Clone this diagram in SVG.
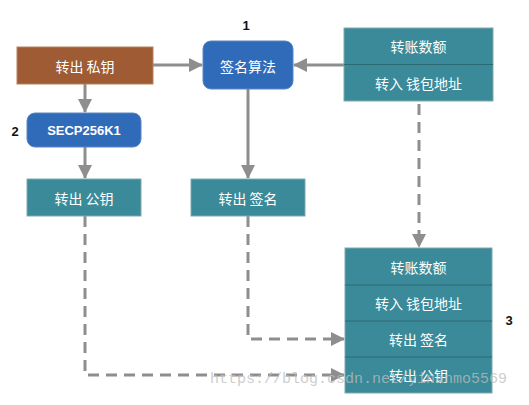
<svg xmlns="http://www.w3.org/2000/svg" width="529" height="405" viewBox="0 0 529 405">
<defs>
<marker id="ah" markerUnits="userSpaceOnUse" markerWidth="14" markerHeight="14" refX="13" refY="7" orient="auto"><path d="M0,0 L14,7 L0,14 Z" fill="#8e8e8e"/></marker>
</defs>
<style>
.t{font-family:"Noto Sans CJK SC","Liberation Sans",sans-serif;font-size:14px;fill:#fff;text-anchor:middle;dominant-baseline:central}
.e{font-family:"Liberation Sans",Arial,sans-serif;font-size:13px;font-weight:bold;fill:#fff;text-anchor:middle;dominant-baseline:central}
.n{font-family:"Liberation Sans",Arial,sans-serif;font-size:13px;font-weight:bold;fill:#111;text-anchor:middle;dominant-baseline:central}
.teal{fill:#3a8a99;stroke:#7fa9ae;stroke-width:1}
.blue{fill:#2f6bb8;stroke:#5d86c0;stroke-width:1}
.ln{fill:none;stroke:#8e8e8e;stroke-width:3}
.dl{fill:none;stroke:#8e8e8e;stroke-width:3;stroke-dasharray:11 7}
.div{stroke:#2c6a72;stroke-width:1}
</style>
<rect width="529" height="405" fill="#fff"/>
<g id="connectors">
<line class="ln" x1="153" y1="65" x2="202" y2="65" marker-end="url(#ah)"/>
<line class="ln" x1="344" y1="65" x2="294" y2="65" marker-end="url(#ah)"/>
<line class="ln" x1="85" y1="84" x2="85" y2="112" marker-end="url(#ah)"/>
<line class="ln" x1="85" y1="147" x2="85" y2="178" marker-end="url(#ah)"/>
<line class="ln" x1="248" y1="89" x2="248" y2="178" marker-end="url(#ah)"/>
<line class="dl" x1="419" y1="104" x2="419" y2="247" marker-end="url(#ah)"/>
<polyline class="dl" points="248,216 248,339 344,339" marker-end="url(#ah)"/>
<polyline class="dl" points="85,216 85,375 344,375" marker-end="url(#ah)"/>
</g>
<g id="private-key">
<rect x="17" y="47" width="136" height="37" fill="#9e5b34" stroke="#b88060" stroke-width="1"/>
<text class="t" x="85" y="65.5">转出 私钥</text>
</g>
<g id="sign-algo">
<rect class="blue" x="203" y="41" width="90" height="48" rx="8"/>
<text class="t" x="248" y="65.5">签名算法</text>
<text class="n" x="246" y="25">1</text>
</g>
<g id="secp">
<rect class="blue" x="27" y="113" width="114" height="34" rx="8"/>
<text class="e" x="84" y="130.5">SECP256K1</text>
<text class="n" x="15" y="131">2</text>
</g>
<g id="public-key">
<rect class="teal" x="27" y="179" width="114" height="37"/>
<text class="t" x="84" y="197.5">转出 公钥</text>
</g>
<g id="signature">
<rect class="teal" x="191" y="179" width="114" height="37"/>
<text class="t" x="248" y="197.5">转出 签名</text>
</g>
<g id="tx-input">
<rect class="teal" x="344" y="28" width="149" height="73"/>
<line class="div" x1="344" y1="64.5" x2="493" y2="64.5"/>
<text class="t" x="418.5" y="46">转账数额</text>
<text class="t" x="418.5" y="83">转入 钱包地址</text>
</g>
<g id="transaction">
<rect class="teal" x="345" y="248" width="147" height="145"/>
<line class="div" x1="345" y1="285" x2="492" y2="285"/>
<line class="div" x1="345" y1="321" x2="492" y2="321"/>
<line class="div" x1="345" y1="357" x2="492" y2="357"/>
<text class="t" x="418.5" y="267">转账数额</text>
<text class="t" x="418.5" y="303">转入 钱包地址</text>
<text class="t" x="418.5" y="339">转出 签名</text>
<text class="t" x="418.5" y="375">转出 公钥</text>
<text class="n" x="509" y="320">3</text>
</g>
<text x="210" y="383" font-family="Liberation Mono,monospace" font-size="15" fill="#bdbdbd" fill-opacity="0.75">https://blog.csdn.net/yinanmo5569</text>
</svg>
